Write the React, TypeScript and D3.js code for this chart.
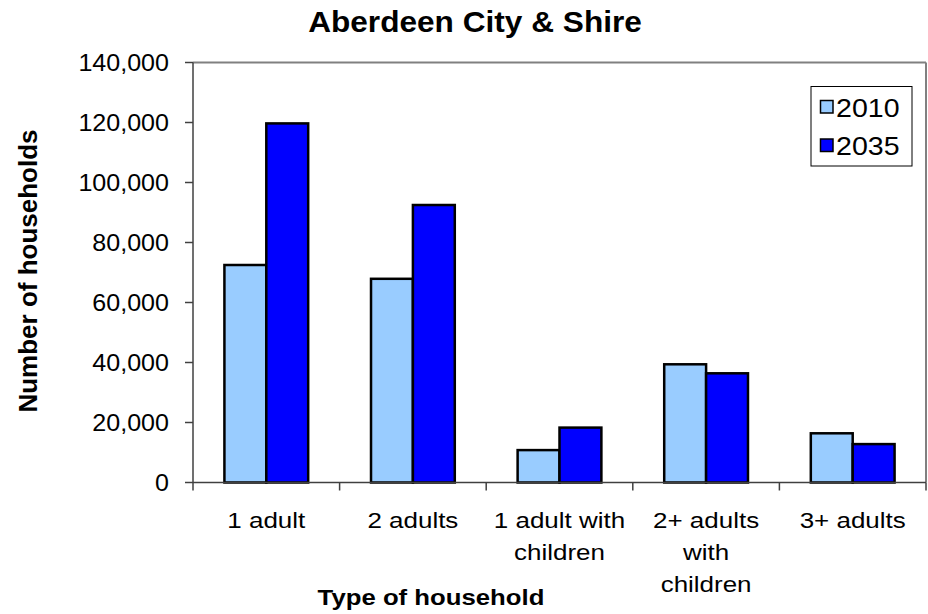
import React from "react";
import * as d3 from "d3";

const title = "Aberdeen City & Shire";
const xTitle = "Type of household";
const yTitle = "Number of households";
const categories = ["1 adult", "2 adults", "1 adult with children", "2+ adults with children", "3+ adults"];
const categoryLines = [["1 adult"], ["2 adults"], ["1 adult with", "children"], ["2+ adults", "with", "children"], ["3+ adults"]];
const seriesNames = ["2010", "2035"];
const values2010 = [72500, 67900, 10800, 39400, 16400];
const values2035 = [119700, 92500, 18300, 36400, 12800];
const yTicks = [0, 20000, 40000, 60000, 80000, 100000, 120000, 140000];
const colors = ["#99CCFF", "#0000FF"];

const W = 928;
const H = 614;
const left = 193;
const right = 926;
const top = 62.5;
const bottom = 482.5;
const FONT = "'Liberation Sans', Arial, Helvetica, sans-serif";

export default function App() {
  const x = d3.scaleBand<string>().domain(categories).range([left, right]).padding(0);
  const y = d3.scaleLinear().domain([0, 140000]).range([bottom, top]);
  const bw = x.bandwidth() / 3.5;
  const series = [values2010, values2035];
  const fmt = d3.format(",");

  return (
    <svg width={W} height={H} style={{ position: "absolute", left: 0, top: 0, background: "#fff" }} fontFamily={FONT}>
      <rect x={0} y={0} width={W} height={H} fill="#fff" />
      {/* title */}
      <text transform={`translate(475,31.5) scale(1.09,1)`} textAnchor="middle" fontSize={29} fontWeight="bold" fill="#000">
        {title}
      </text>
      {/* plot border top/right */}
      <line x1={left} x2={right} y1={top} y2={top} stroke="#808080" strokeWidth={2} />
      <line x1={right} x2={right} y1={top} y2={bottom} stroke="#808080" strokeWidth={2} />
      {/* bars */}
      {series.map((vals, si) =>
        vals.map((v, i) => {
          const x0 = (x(categories[i]) as number) + 0.75 * bw + si * bw;
          return (
            <rect
              key={`${si}-${i}`}
              x={x0}
              y={y(v)}
              width={bw}
              height={bottom - y(v)}
              fill={colors[si]}
              stroke="#000"
              strokeWidth={2.5}
            />
          );
        })
      )}
      {/* y axis */}
      <line x1={left} x2={left} y1={top} y2={bottom} stroke="#404040" strokeWidth={1.5} />
      {yTicks.map((t) => (
        <g key={t}>
          <line x1={left - 8} x2={left} y1={y(t)} y2={y(t)} stroke="#404040" strokeWidth={1.5} />
          <text
            transform={`translate(169,${y(t) + 8}) scale(1.09,1)`}
            textAnchor="end"
            fontSize={23}
            fill="#000"
          >
            {fmt(t)}
          </text>
        </g>
      ))}
      {/* x axis */}
      <line x1={left} x2={right} y1={bottom} y2={bottom} stroke="#404040" strokeWidth={1.5} />
      {categories.map((c, i) => (
        <line key={c} x1={x(c) as number} x2={x(c) as number} y1={bottom} y2={bottom + 8} stroke="#404040" strokeWidth={1.5} />
      ))}
      <line x1={right} x2={right} y1={bottom} y2={bottom + 8} stroke="#404040" strokeWidth={1.5} />
      {categories.map((c, i) => (
        <g key={`lab-${c}`}>
          {categoryLines[i].map((ln, li) => (
            <text
              key={li}
              transform={`translate(${(x(c) as number) + x.bandwidth() / 2},${528 + li * 32}) scale(1.18,1)`}
              textAnchor="middle"
              fontSize={22}
              fill="#000"
            >
              {ln}
            </text>
          ))}
        </g>
      ))}
      {/* axis titles */}
      <text transform={`translate(431,605) scale(1.17,1)`} textAnchor="middle" fontSize={22} fontWeight="bold" fill="#000">
        {xTitle}
      </text>
      <text transform={`translate(37,271) rotate(-90)`} textAnchor="middle" fontSize={26} fontWeight="bold" fill="#000">
        {yTitle}
      </text>
      {/* legend */}
      <rect x={811} y={86.5} width={101} height={79.5} fill="#fff" stroke="#000" strokeWidth={1} />
      {seriesNames.map((s, i) => (
        <g key={s}>
          <rect x={820.5} y={100.5 + i * 38.5} width={12.5} height={12.5} fill={colors[i]} stroke="#000" strokeWidth={1.5} />
          <text transform={`translate(836,${116.7 + i * 38.5}) scale(1.12,1)`} fontSize={25.5} fill="#000">
            {s}
          </text>
        </g>
      ))}
    </svg>
  );
}
